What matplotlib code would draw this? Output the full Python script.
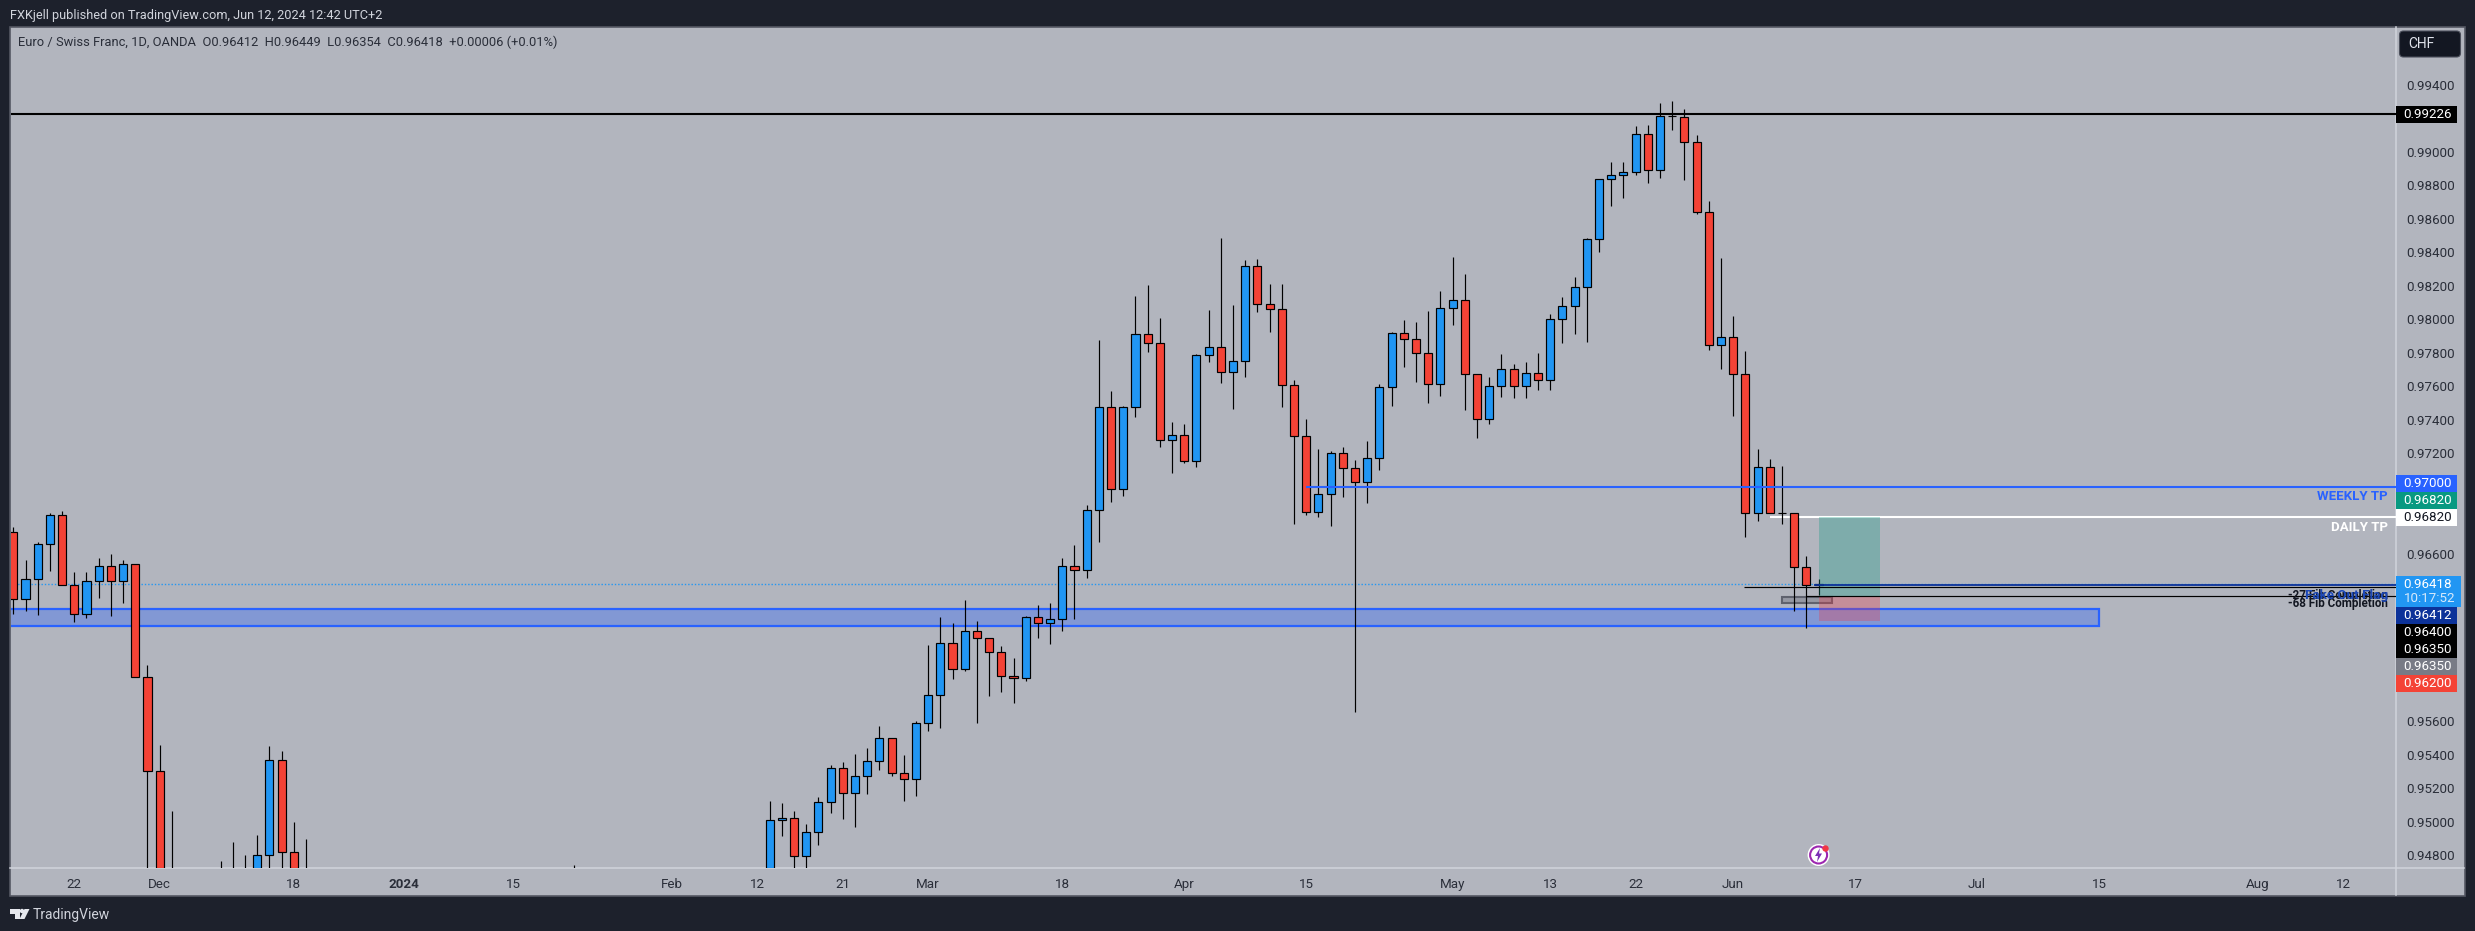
import matplotlib
matplotlib.use("Agg")
import matplotlib.pyplot as plt
from matplotlib.patches import Rectangle, Circle, Polygon, FancyBboxPatch
import numpy as np
import pandas as pd

plt.rcParams['font.family'] = ['Roboto', 'Inter', 'DejaVu Sans']

OFF = 0.9460  # below the visible pane, only clipped away

# EUR/CHF daily bars
opens = [
    0.96728, 0.96328, 0.96448, 0.96657, 0.96830, 0.96412, 0.96239, 0.96436, 0.96526, 0.96436,
    0.96537, 0.95863, 0.95302, OFF, OFF, OFF, OFF, OFF, OFF, OFF,
    OFF, 0.94800, 0.95367, 0.94818, OFF] + [OFF] * 21 + [OFF] + [OFF] * 15 + [
    OFF, 0.95009, 0.95021, 0.94794, 0.94937, 0.95116, 0.95319, 0.95170, 0.95272, 0.95361,
    0.95499, 0.95290, 0.95254, 0.95588, 0.95755, 0.96066, 0.95911, 0.96137, 0.96096, 0.96012,
    0.95869, 0.95857, 0.96221, 0.96185, 0.96209, 0.96526, 0.96502, 0.96860, 0.97475, 0.96985,
    0.97475, 0.97911, 0.97857, 0.97278, 0.97308, 0.97152, 0.97785, 0.97833, 0.97684, 0.97750,
    0.98317, 0.98090, 0.98060, 0.97606, 0.97302, 0.96848, 0.96955, 0.97200, 0.97111, 0.97027,
    0.97170, 0.97594, 0.97917, 0.97881, 0.97797, 0.97612, 0.98066, 0.98114, 0.97672, 0.97403,
    0.97600, 0.97702, 0.97600, 0.97678, 0.97636, 0.98000, 0.98078, 0.98191, 0.98478, 0.98836,
    0.98860, 0.98878, 0.99105, 0.98890, 0.99212, 0.99206, 0.99057, 0.98639, 0.97845, 0.97893,
    0.97672, 0.96842, 0.97117, 0.96842, 0.96842, 0.96520, 0.96412]
closes = [
    0.96328, 0.96448, 0.96657, 0.96830, 0.96412, 0.96239, 0.96436, 0.96526, 0.96436, 0.96537,
    0.95863, 0.95302, OFF, OFF, OFF, OFF, OFF, OFF, OFF, OFF,
    0.94800, 0.95367, 0.94818, OFF, OFF] + [OFF] * 21 + [OFF] + [OFF] * 15 + [
    0.95009, 0.95021, 0.94794, 0.94937, 0.95116, 0.95319, 0.95170, 0.95272, 0.95361, 0.95499,
    0.95290, 0.95254, 0.95588, 0.95755, 0.96066, 0.95911, 0.96137, 0.96096, 0.96012, 0.95869,
    0.95857, 0.96221, 0.96185, 0.96209, 0.96526, 0.96502, 0.96860, 0.97475, 0.96985, 0.97475,
    0.97911, 0.97857, 0.97278, 0.97308, 0.97152, 0.97785, 0.97833, 0.97684, 0.97750, 0.98317,
    0.98090, 0.98060, 0.97606, 0.97302, 0.96848, 0.96955, 0.97200, 0.97111, 0.97027, 0.97170,
    0.97594, 0.97917, 0.97881, 0.97797, 0.97612, 0.98066, 0.98114, 0.97672, 0.97403, 0.97600,
    0.97702, 0.97600, 0.97678, 0.97636, 0.98000, 0.98078, 0.98191, 0.98478, 0.98836, 0.98860,
    0.98878, 0.99105, 0.98890, 0.99212, 0.99212, 0.99057, 0.98639, 0.97845, 0.97893, 0.97672,
    0.96842, 0.97117, 0.96842, 0.96842, 0.96520, 0.96412, 0.96418]
highs = [
    0.96760, 0.96563, 0.96671, 0.96842, 0.96854, 0.96490, 0.96490, 0.96573, 0.96599, 0.96563,
    0.96537, 0.95936, 0.95459, 0.95065, OFF, OFF, OFF, 0.94766, 0.94879, 0.94802,
    0.94921, 0.95453, 0.95423, 0.94999, 0.94897] + [OFF] * 21 + [0.94744] + [OFF] * 15 + [
    0.95124, 0.95112, 0.95065, 0.94985, 0.95148, 0.95339, 0.95357, 0.95405, 0.95441, 0.95572,
    0.95499, 0.95399, 0.95600, 0.96056, 0.96223, 0.96185, 0.96324, 0.96199, 0.96096, 0.96050,
    0.95978, 0.96229, 0.96294, 0.96306, 0.96573, 0.96653, 0.96891, 0.97877, 0.97570, 0.97481,
    0.98139, 0.98205, 0.98008, 0.97387, 0.97373, 0.97791, 0.98056, 0.98486, 0.98086, 0.98354,
    0.98360, 0.98211, 0.98211, 0.97638, 0.97403, 0.97226, 0.97214, 0.97236, 0.97160, 0.97274,
    0.97614, 0.97924, 0.97996, 0.97984, 0.98050, 0.98169, 0.98372, 0.98271, 0.97672, 0.97654,
    0.97791, 0.97732, 0.97744, 0.97799, 0.98032, 0.98132, 0.98253, 0.98486, 0.98836, 0.98939,
    0.98939, 0.99154, 0.99160, 0.99292, 0.99304, 0.99256, 0.99101, 0.98707, 0.98366, 0.98020,
    0.97811, 0.97226, 0.97166, 0.97124, 0.96842, 0.96587, 0.96449]
lows = [
    0.96241, 0.96260, 0.96236, 0.96499, 0.96412, 0.96195, 0.96219, 0.96338, 0.96231, 0.96308,
    0.95863, OFF, OFF, OFF, OFF, OFF, OFF, OFF, OFF, OFF,
    OFF, OFF, OFF, OFF, OFF] + [OFF] * 21 + [OFF] + [OFF] * 15 + [
    OFF, 0.94917, OFF, OFF, 0.94863, 0.95054, 0.95017, 0.94969, 0.95168, 0.95311,
    0.95275, 0.95126, 0.95156, 0.95544, 0.95562, 0.95854, 0.95902, 0.95592, 0.95753, 0.95777,
    0.95711, 0.95842, 0.96099, 0.96063, 0.96141, 0.96213, 0.96457, 0.96672, 0.96911, 0.96947,
    0.97419, 0.97807, 0.97240, 0.97084, 0.97144, 0.97120, 0.97747, 0.97622, 0.97466, 0.97658,
    0.98046, 0.97926, 0.97478, 0.96780, 0.96834, 0.96822, 0.96768, 0.96941, 0.95656, 0.96905,
    0.97102, 0.97484, 0.97717, 0.97628, 0.97502, 0.97544, 0.97968, 0.97460, 0.97293, 0.97377,
    0.97538, 0.97532, 0.97532, 0.97580, 0.97580, 0.97861, 0.97914, 0.97867, 0.98402, 0.98678,
    0.98726, 0.98863, 0.98816, 0.98846, 0.99132, 0.98834, 0.98631, 0.97819, 0.97705, 0.97425,
    0.96702, 0.96798, 0.96842, 0.96780, 0.96260, 0.96159, 0.96354]

# drawn levels
swing_high = 0.99226
weekly_tp = 0.97000
daily_tp = 0.96820
last_price = 0.96418
last_open = 0.96412
fib_27 = 0.96400
fib_68 = 0.96350
zone_top = 0.96270
zone_bottom = 0.96170
pos_stop = 0.96200
flag_top = 0.96342
flag_bottom = 0.96306

tick_dates = ["2023-11-22", "2023-12-01", "2023-12-18", "2024-01-02", "2024-01-15", "2024-02-01",
              "2024-02-12", "2024-02-21", "2024-03-01", "2024-03-18", "2024-04-01", "2024-04-15",
              "2024-05-01", "2024-05-13", "2024-05-22", "2024-06-03", "2024-06-17", "2024-07-01",
              "2024-07-15", "2024-08-01", "2024-08-12"]
tick_labels = ["22", "Dec", "18", "2024", "15", "Feb", "12", "21", "Mar", "18", "Apr", "15", "May",
               "13", "22", "Jun", "17", "Jul", "15", "Aug", "12"]
price_ticks = [0.99400, 0.99000, 0.98800, 0.98600, 0.98400, 0.98200, 0.98000, 0.97800, 0.97600,
               0.97400, 0.97200, 0.96600, 0.95600, 0.95400, 0.95200, 0.95000, 0.94800]

tag_labels = ["0.97000", "0.96820", "0.96820", "0.96412", "0.96400", "0.96350", "0.96350", "0.96200"]
tag_tops = [475, 492, 509, 607, 624, 641, 658, 675]
tag_colors = ["#2962ff", "#089981", "#ffffff", "#0c3299", "#000000", "#000000", "#787b86", "#f44336"]
tag_text = ["white", "white", "#131722", "white", "white", "white", "white", "white"]

BG = "#b2b5be"
DARK = "#1d212c"
UP = "#2196f3"
DOWN = "#f44336"
AXIS_LINE = "#d1d4dc"
TXT = "#2a2e39"

# trading calendar of the chart, used for the x positions
dates = pd.bdate_range("2023-11-15", "2024-08-30").drop(pd.to_datetime(["2023-12-25", "2024-01-01"]))
bars = np.arange(len(opens))


def bar_of(day):
    return dates.get_loc(pd.Timestamp(day))


o, c, h, l = map(np.array, (opens, closes, highs, lows))
assert len(o) == len(c) == len(h) == len(l) == 149

fig = plt.figure(figsize=(24.75, 9.31), dpi=100, facecolor=DARK)

# page furniture in pixel coordinates
base = fig.add_axes([0, 0, 1, 1], zorder=0)
base.set_xlim(0, 2475)
base.set_ylim(931, 0)
base.axis("off")
base.add_patch(Rectangle((10, 27), 2454.5, 868.5, fc=BG, ec="#555863", lw=1.2))
base.plot([10, 2464], [868, 868], color=AXIS_LINE, lw=1.1)
base.plot([2395.5, 2395.5], [27, 895], color=AXIS_LINE, lw=1.1)

# main chart
ax = fig.add_axes([10.5 / 2475, 1 - 868 / 931, 2385 / 2475, 841 / 931], zorder=1)
ax.patch.set_alpha(0)
ax.set_xlim(-0.23, 195.3)
ax.set_ylim(0.94724, 0.99745)
for s in ax.spines.values():
    s.set_visible(False)

# zone and position sit under the candles
ax.add_patch(Rectangle((-5, zone_bottom), 176, zone_top - zone_bottom, fc="#2962ff", alpha=0.35, lw=0, zorder=1))
ax.add_patch(Rectangle((-5, zone_bottom), 176, zone_top - zone_bottom, fc="none", ec="#2962ff", lw=1.6, zorder=1.2))
ax.axhline(last_price, color=UP, lw=1, ls=(0, (1, 1.4)), zorder=1.5)

up = c >= o
colors = np.where(up, UP, DOWN)
ax.vlines(bars, l, h, color="black", lw=0.85, zorder=3)
ax.bar(bars, np.abs(c - o), bottom=np.minimum(o, c), width=0.66, color=colors,
       edgecolor="black", linewidth=0.85, zorder=4)

ax.axhline(swing_high, color="black", lw=1.5, zorder=5)
ax.hlines(weekly_tp, bar_of("2024-04-15"), 200, color="#2962ff", lw=1.5, zorder=5)
ax.hlines(daily_tp, bar_of("2024-06-04") + 2, 200, color="white", lw=1.5, zorder=2)
ax.hlines(last_open, 147.6, 200, color="#0c3299", lw=1.3, zorder=5)
ax.hlines(fib_27, 141.9, 200, color="black", lw=0.85, zorder=5)
ax.hlines(fib_68, 147, 200, color="black", lw=0.85, zorder=5)

ax.add_patch(Rectangle((148, fib_68), 5, daily_tp - fib_68, fc="#089981", alpha=0.3, lw=0, zorder=4.5))
ax.add_patch(Rectangle((148, pos_stop), 5, fib_68 - pos_stop, fc="#f23645", alpha=0.3, lw=0, zorder=4.5))
ax.add_patch(Rectangle((145, flag_bottom), 4.1, flag_top - flag_bottom, fc="#9598a3",
                       ec="#5f626e", lw=1.5, zorder=2.5))

ax.set_xticks([bar_of(d) for d in tick_dates])
ax.set_xticklabels(tick_labels)
ax.yaxis.tick_right()
ax.set_yticks(price_ticks)
ax.set_yticklabels([f"{p:.5f}" for p in price_ticks])
ax.tick_params(axis="x", length=0, pad=7, labelsize=9.6, colors=TXT)
ax.tick_params(axis="y", length=0, pad=8, labelsize=9.6, colors=TXT)
for lab in ax.get_xticklabels():
    if lab.get_text() == "2024":
        lab.set_fontweight("bold")

# overlay in pixel coordinates: price tags, notes, logos
ov = fig.add_axes([0, 0, 1, 1], zorder=2)
ov.set_xlim(0, 2475)
ov.set_ylim(931, 0)
ov.axis("off")
ov.patch.set_alpha(0)


def tag(top, height, width, color, text, tcolor):
    ov.add_patch(Rectangle((2395.5, top), width, height, fc=color, lw=0))
    ov.text(2403.5, top + height / 2, text, color=tcolor, fontsize=9.6, va="center", ha="left")


tag(106, 17, 61, "#000000", "0.99226", "white")
for label, top, col, tc in zip(tag_labels, tag_tops, tag_colors, tag_text):
    tag(top, 17, 61, col, label, tc)
ov.add_patch(Rectangle((2395.5, 576), 65.5, 31, fc=UP, lw=0))
ov.text(2403.5, 584.5, "0.96418", color="white", fontsize=9.6, va="center")
ov.text(2403.5, 599, "10:17:52", color="#d6e9fb", fontsize=9.6, va="center")

ov.add_patch(FancyBboxPatch((2401, 32.5), 58, 23, boxstyle="round,pad=1.5,rounding_size=4",
                            fc="#131722", ec="#4a4e5a", lw=0.8))
ov.text(2408, 44, "CHF", color="#e0e3eb", fontsize=10, va="center")

ov.text(2388, 496, "WEEKLY TP", color="#2962ff", fontsize=9.5, fontweight="bold", ha="right", va="center")
ov.text(2388, 527.5, "DAILY TP", color="white", fontsize=9.5, fontweight="bold", ha="right", va="center")
ov.text(2388, 595, "-27 Fib Completion", color="#131722", fontsize=8.4, fontweight="bold", ha="right", va="center")
ov.text(2388, 603.5, "-68 Fib Completion", color="#131722", fontsize=8.4, fontweight="bold", ha="right", va="center")
ov.text(2388, 595, "Fake Out Flag", color="#1c48b8", fontsize=9.6, fontweight="bold", ha="right", va="center")

ov.text(10.5, 15.5, "FXKjell published on TradingView.com, Jun 12, 2024 12:42 UTC+2", color="#d1d4dc",
        fontsize=9.15, va="center")
ov.text(18.5, 42.5, "Euro / Swiss Franc, 1D, OANDA  O0.96412  H0.96449  L0.96354  C0.96418  +0.00006 (+0.01%)",
        color=TXT, fontsize=9.25, va="center")

# earnings-style lightning marker under the last bar
ov.add_patch(Circle((1818.6, 855), 11, fc="white", lw=0))
ov.add_patch(Circle((1818.6, 855), 8.5, fc="none", ec="#9c27b0", lw=1.5))
ov.add_patch(Polygon([(1820, 848), (1815, 856), (1818, 856), (1817, 862), (1822, 853.5), (1819, 853.5)],
                     fc="#7b2fb5", lw=0))
ov.add_patch(Circle((1825.5, 848.5), 3.2, fc="#f23645", lw=0))

# TradingView mark and wordmark
ov.add_patch(Polygon([(10, 909), (19.5, 909), (19.5, 919), (14.5, 919), (14.5, 913.5), (10, 913.5)], fc="#e6e8ee", lw=0))
ov.add_patch(Circle((22, 911), 2.2, fc="#e6e8ee", lw=0))
ov.add_patch(Polygon([(24.5, 919), (19.5, 919), (24.5, 909), (29.5, 909)], fc="#e6e8ee", lw=0))
ov.text(33, 915, "TradingView", color="#d1d4dc", fontsize=10, va="center")

fig.savefig("out.png", dpi=100, facecolor=DARK)
